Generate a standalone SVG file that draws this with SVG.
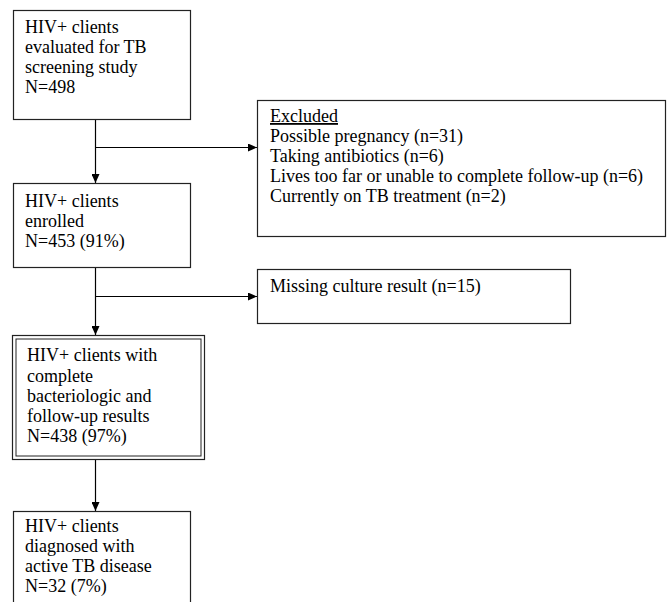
<svg xmlns="http://www.w3.org/2000/svg" width="668" height="602" viewBox="0 0 668 602">
<style>
.box{fill:#fff;stroke:#222;stroke-width:1.2}
.t{font-family:"Liberation Serif","Times New Roman",serif;font-size:18px;fill:#000}
.c{fill:none;stroke:#000;stroke-width:1.2}
</style>
<defs>
<marker id="ah" markerWidth="9" markerHeight="8" refX="9" refY="4" orient="auto" markerUnits="userSpaceOnUse">
<path d="M0,0 L9,4 L0,8 Z" fill="#000"/>
</marker>
</defs>
<rect width="668" height="602" fill="#fff"/>
<g id="connectors">
<path class="c" d="M95.5,119 V183" marker-end="url(#ah)"/>
<path class="c" d="M95.5,147.5 H257" marker-end="url(#ah)"/>
<path class="c" d="M95.5,267 V335" marker-end="url(#ah)"/>
<path class="c" d="M95.5,296.5 H257" marker-end="url(#ah)"/>
<path class="c" d="M95.5,459 V511" marker-end="url(#ah)"/>
</g>
<g id="n1">
<rect class="box" x="13.5" y="10.5" width="177" height="109"/>
<text class="t" x="25" y="33">HIV+ clients</text>
<text class="t" x="25" y="53">evaluated for TB</text>
<text class="t" x="25" y="73">screening study</text>
<text class="t" x="25" y="93">N=498</text>
</g>
<g id="excluded">
<rect class="box" x="257.5" y="100.5" width="408" height="136"/>
<text class="t" x="270" y="122" text-decoration="underline">Excluded</text>
<text class="t" x="270" y="142">Possible pregnancy (n=31)</text>
<text class="t" x="270" y="162">Taking antibiotics (n=6)</text>
<text class="t" x="270" y="182">Lives too far or unable to complete follow-up (n=6)</text>
<text class="t" x="270" y="202">Currently on TB treatment (n=2)</text>
</g>
<g id="n2">
<rect class="box" x="13.5" y="183.5" width="177" height="84"/>
<text class="t" x="25" y="207">HIV+ clients</text>
<text class="t" x="25" y="227">enrolled</text>
<text class="t" x="25" y="247">N=453 (91%)</text>
</g>
<g id="missing">
<rect class="box" x="257.5" y="269.5" width="313" height="54"/>
<text class="t" x="270" y="292">Missing culture result (n=15)</text>
</g>
<g id="n3">
<rect class="box" x="12.5" y="335.5" width="192" height="124" stroke-width="1.8"/>
<rect fill="none" stroke="#222" stroke-width="1" x="16" y="339" width="185" height="117"/>
<text class="t" x="27" y="361">HIV+ clients with</text>
<text class="t" x="27" y="382">complete</text>
<text class="t" x="27" y="402">bacteriologic and</text>
<text class="t" x="27" y="422">follow-up results</text>
<text class="t" x="27" y="442">N=438 (97%)</text>
</g>
<g id="n4">
<rect class="box" x="13.5" y="511.5" width="177" height="100"/>
<text class="t" x="25" y="532">HIV+ clients</text>
<text class="t" x="25" y="552">diagnosed with</text>
<text class="t" x="25" y="572">active TB disease</text>
<text class="t" x="25" y="592">N=32 (7%)</text>
</g>
</svg>
